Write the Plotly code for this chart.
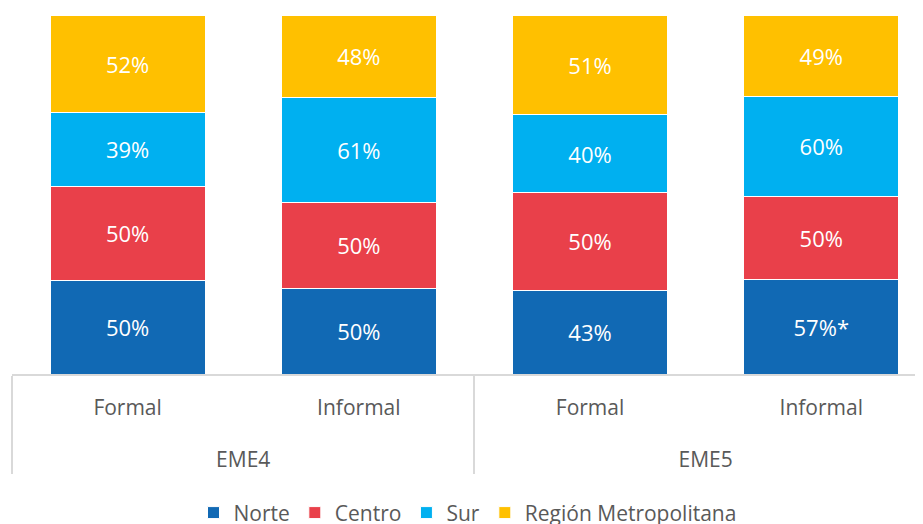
import plotly.graph_objects as go

groups = ["EME4", "EME4", "EME5", "EME5"]
types = ["Formal", "Informal", "Formal", "Informal"]

series_names = ["Norte", "Centro", "Sur", "Región Metropolitana"]
norte = [50, 50, 43, 57]
centro = [50, 50, 50, 50]
sur = [39, 61, 40, 60]
rm = [52, 48, 51, 49]
norte_labels = ["50%", "50%", "43%", "57%*"]

colors = ["#1169B4", "#E9404A", "#00B0F0", "#FFC000"]

type_ticks = [t + "<br><span style='font-size:47px'> </span>" for t in types]

fig = go.Figure()
all_vals = [norte, centro, sur, rm]
for i, (name, vals) in enumerate(zip(series_names, all_vals)):
    labels = norte_labels if i == 0 else [f"{v}%" for v in vals]
    fig.add_trace(go.Bar(
        x=[groups, type_ticks], y=vals, name=name,
        marker=dict(color=colors[i], line=dict(color="white", width=1)),
        text=labels, textposition="inside", insidetextanchor="middle",
        textfont=dict(color="white", size=22),
        hoverinfo="skip",
    ))

# page body has an 8px margin: figure coordinates = reference coordinates - 8
fig.update_layout(
    barmode="stack", barnorm="percent", bargap=0.33,
    width=915, height=516,
    margin=dict(l=4, r=0, t=7, b=150, autoexpand=False),
    plot_bgcolor="white", paper_bgcolor="white",
    font=dict(family="Open Sans", color="#595959", size=21),
    legend=dict(orientation="h", x=0.5, xanchor="center", y=-0.387, yanchor="middle",
                traceorder="normal", font=dict(size=21, color="#595959"),
                itemwidth=30),
    xaxis=dict(type="multicategory", range=[-0.5, 3.44], automargin=False,
               showline=True, linecolor="#D9D9D9", linewidth=2,
               showdividers=True, dividercolor="#D9D9D9", dividerwidth=2,
               ticklabelstandoff=14,
               tickfont=dict(size=21, color="#595959"), ticks=""),
    yaxis=dict(visible=False, range=[0, 100]),
)
fig.write_html("out.html")
